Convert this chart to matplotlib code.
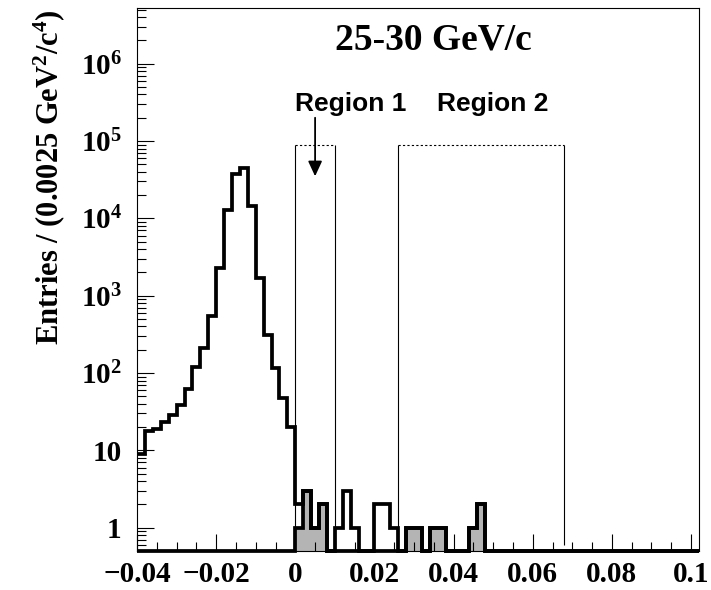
import numpy as np
import matplotlib
matplotlib.use("Agg")
import matplotlib.pyplot as plt
from matplotlib.ticker import FixedLocator, MultipleLocator, LogLocator, NullFormatter

# Histogram binning
x_start = -0.04
bin_width = 0.002
n_bins = 71

# Entries per bin, all candidates
all_counts = [
    9, 18, 19, 23, 29, 39, 62, 120, 210, 540,
    2300, 12800, 37000, 45000, 14500, 1700, 310, 115, 47, 20,
    2, 3, 1, 2, 0, 1, 3, 1, 0, 0,
    2, 2, 1, 0, 1, 1, 0, 1, 1, 0,
    0, 0, 1, 2, 0, 0, 0, 0, 0, 0,
    0, 0, 0, 0, 0, 0, 0, 0, 0, 0,
    0, 0, 0, 0, 0, 0, 0, 0, 0, 0,
    0,
]
# Entries per bin, selected subsample (shaded)
selected_counts = [0] * 20 + [
    1, 3, 1, 2, 0, 0, 0, 0, 0, 0,
    0, 0, 0, 0, 1, 1, 0, 1, 1, 0,
    0, 0, 1, 2, 0, 0, 0, 0, 0, 0,
    0, 0, 0, 0, 0, 0, 0, 0, 0, 0,
    0, 0, 0, 0, 0, 0, 0, 0, 0, 0,
    0,
]

region1 = (0.0, 0.01)
region2 = (0.026, 0.068)
region_top = 9e4
region_bottom = 0.6
arrow_x = 0.005
arrow_start, arrow_end = 2.0e5, 3.5e4

title_text = "25-30 GeV/c"
region_labels = ["Region 1", "Region 2"]
region_label_x = [0.0, 0.0357]
region_label_y = 2.46e5

xtick_values = [-0.04, -0.02, 0.0, 0.02, 0.04, 0.06, 0.08, 0.1]
xtick_labels = ["\u22120.04", "\u22120.02", "0", "0.02", "0.04", "0.06", "0.08", "0.1"]
ytick_values = [1, 10, 1e2, 1e3, 1e4, 1e5, 1e6]
ytick_labels = ["1", "10", "$10^{2}$", "$10^{3}$", "$10^{4}$", "$10^{5}$", "$10^{6}$"]
ylabel_text = "Entries / (0.0025 GeV$^{2}$/c$^{4}$)"

x_range = (-0.04, 0.102)
y_range = (0.5, 5.2e6)

plt.rcParams["mathtext.fontset"] = "custom"
plt.rcParams["mathtext.rm"] = "Liberation Serif:bold"
plt.rcParams["mathtext.it"] = "Liberation Serif:italic:bold"
plt.rcParams["mathtext.bf"] = "Liberation Serif:bold"

serif_bold = dict(family="Liberation Serif", weight="bold")

edges = x_start + bin_width * np.arange(n_bins + 1)
all_arr = np.asarray(all_counts, dtype=float)
sel_arr = np.asarray(selected_counts, dtype=float)
ymin = y_range[0]
# empty bins are drawn along the lower frame edge
all_plot = np.where(all_arr > 0, all_arr, ymin)
sel_plot = np.where(sel_arr > 0, sel_arr, ymin)

fig = plt.figure(figsize=(7.11, 5.90), dpi=100)
ax = fig.add_axes([0.1927, 0.0661, 0.7904, 0.9198])
ax.set_yscale("log")
ax.set_xlim(*x_range)
ax.set_ylim(*y_range)

hist_lw = 2.7
ax.stairs(sel_plot, edges, baseline=ymin, fill=True, color="#b4b4b4", lw=0, zorder=1)
ax.stairs(sel_plot, edges, baseline=None, color="black", lw=hist_lw, clip_on=False, zorder=3)
ax.stairs(all_plot, edges, baseline=None, color="black", lw=hist_lw, clip_on=False, zorder=3)

# signal regions
for lo, hi in (region1, region2):
    ax.vlines([lo, hi], region_bottom, region_top, color="black", lw=0.8, zorder=2)
    ax.hlines(region_top, lo, hi, color="black", lw=0.8, linestyles=(0, (2, 2)), zorder=2)

ax.annotate("", xy=(arrow_x, arrow_end), xytext=(arrow_x, arrow_start),
            arrowprops=dict(arrowstyle="-|>,head_length=0.65,head_width=0.3",
                            mutation_scale=14, lw=1.3, color="black",
                            shrinkA=0, shrinkB=0))

for label, lx in zip(region_labels, region_label_x):
    ax.text(lx, region_label_y, label, family="Liberation Sans", weight="bold",
            fontsize=19, ha="left", va="baseline")

ax.text(0.527, 0.9245, title_text, transform=ax.transAxes, fontsize=27,
        ha="center", va="baseline", **serif_bold)

# axes styling
for side in ax.spines.values():
    side.set_linewidth(0.8)
ax.xaxis.set_major_locator(FixedLocator(xtick_values))
ax.xaxis.set_minor_locator(MultipleLocator(0.005))
ax.set_xticklabels(xtick_labels)
ax.yaxis.set_major_locator(FixedLocator(ytick_values))
ax.yaxis.set_minor_locator(LogLocator(base=10, subs=np.arange(2, 10)))
ax.yaxis.set_minor_formatter(NullFormatter())
ax.set_yticklabels(ytick_labels)

ax.tick_params(axis="both", which="both", direction="in", top=False, right=False, width=0.8)
ax.tick_params(axis="both", which="major", length=12)
ax.tick_params(axis="both", which="minor", length=6.2)
ax.tick_params(axis="y", which="major", pad=11)
ax.tick_params(axis="x", which="major", pad=7)
for lab in ax.get_xticklabels() + ax.get_yticklabels():
    lab.set_fontfamily("Liberation Serif")
    lab.set_fontweight("bold")
    lab.set_fontsize(21)

ax.set_ylabel(ylabel_text, fontsize=22, **serif_bold)
ax.yaxis.set_label_coords(-0.124, 0.689)

fig.savefig("out.png", dpi=100)
